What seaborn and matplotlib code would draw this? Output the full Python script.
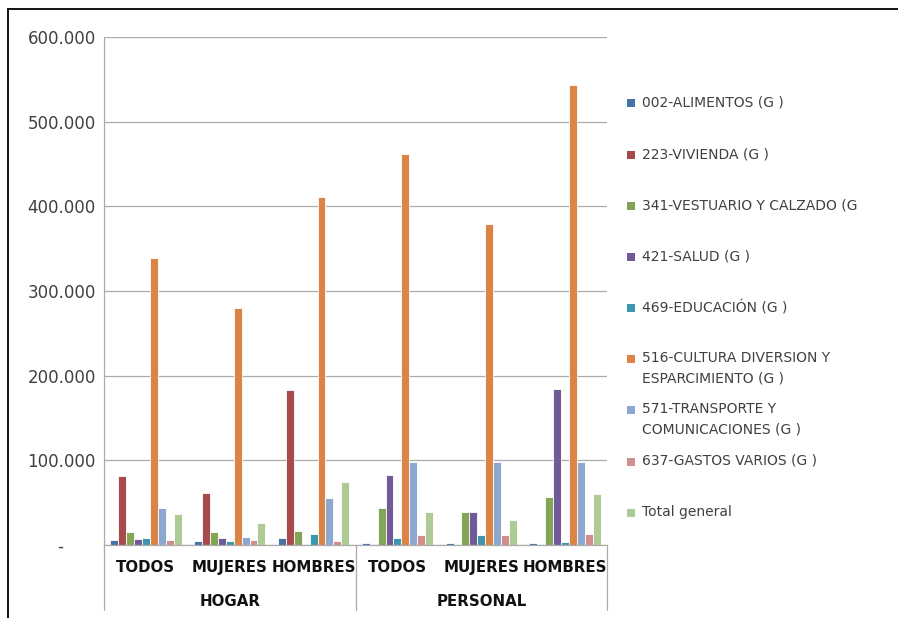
import matplotlib
matplotlib.use("Agg")
import matplotlib.pyplot as plt
from matplotlib.lines import Line2D
from matplotlib.patches import Rectangle
from matplotlib.ticker import FuncFormatter, MultipleLocator
import matplotlib.transforms as mtransforms
import seaborn as sns
import pandas as pd

# ---- data -------------------------------------------------------------
groups = ["HOGAR", "PERSONAL"]
subgroups = ["TODOS", "MUJERES", "HOMBRES"]

series = [
    "002-ALIMENTOS (G )",
    "223-VIVIENDA (G )",
    "341-VESTUARIO Y CALZADO (G",
    "421-SALUD (G )",
    "469-EDUCACIÓN (G )",
    "516-CULTURA DIVERSION Y\nESPARCIMIENTO (G )",
    "571-TRANSPORTE Y\nCOMUNICACIONES (G )",
    "637-GASTOS VARIOS (G )",
    "Total general",
]

# order: HOGAR TODOS / MUJERES / HOMBRES, PERSONAL TODOS / MUJERES / HOMBRES
alimentos = [6000, 5100, 8300, 2400, 2700, 2400]
vivienda = [82000, 61600, 182600, 0, 0, 0]
vestuario = [15500, 15400, 16600, 43500, 38700, 56900]
salud = [6700, 7900, 1200, 82600, 38700, 184000]
educacion = [8000, 4400, 13000, 8600, 11800, 3900]
cultura = [338800, 280000, 410700, 461600, 379500, 543800]
transporte = [44200, 9100, 56000, 98300, 98300, 97500]
gastos = [5600, 5900, 5000, 11800, 11500, 12700]
total_general = [36700, 26400, 74600, 39400, 29600, 60400]

values = [alimentos, vivienda, vestuario, salud, educacion,
          cultura, transporte, gastos, total_general]

colors = ["#4572A7", "#A84A4B", "#84A556", "#705A98", "#3E96AC",
          "#DB8446", "#8CA8D0", "#D28E8D", "#AFCB95"]

categories = [f"{g} {s}" for g in groups for s in subgroups]

rows = []
for name, vals in zip(series, values):
    for cat, v in zip(categories, vals):
        rows.append({"categoria": cat, "serie": name, "valor": v})
df = pd.DataFrame(rows)

# ---- figure -----------------------------------------------------------
sns.set_style("white")
plt.rcParams["font.family"] = ["DejaVu Sans"]

W, H = 898, 618
fig = plt.figure(figsize=(W / 100, H / 100), dpi=100)
ax_left, ax_right, ax_top, ax_bottom = 104, 607, 37, 545
ax = fig.add_axes([ax_left / W, 1 - ax_bottom / H,
                   (ax_right - ax_left) / W, (ax_bottom - ax_top) / H])

sns.barplot(data=df, x="categoria", y="valor", hue="serie",
            order=categories, hue_order=series, palette=colors,
            width=0.85, saturation=1, errorbar=None,
            edgecolor="white", linewidth=0.6, legend=False, ax=ax)

ax.set_xlim(-0.5, len(categories) - 0.5)
ax.set_ylim(0, 600000)
ax.yaxis.set_major_locator(MultipleLocator(100000))


def miles(v, _):
    if v == 0:
        return "-      "
    return f"{int(round(v)):,}".replace(",", ".")


ax.yaxis.set_major_formatter(FuncFormatter(miles))
ax.grid(axis="y", color="#ABABAB", linewidth=0.9)
ax.set_axisbelow(True)
ax.set_xlabel("")
ax.set_ylabel("")

for side in ["top", "right", "left"]:
    ax.spines[side].set_visible(False)
ax.spines["bottom"].set_color("#ABABAB")
ax.spines["bottom"].set_linewidth(0.9)

ax.tick_params(axis="y", length=0, pad=6, labelsize=12, labelcolor="#404040")
ax.set_xticks(range(len(categories)))
ax.set_xticklabels([])
ax.tick_params(axis="x", length=0)

# two-level category labels, placed on a common baseline
trans = mtransforms.blended_transform_factory(ax.transData, ax.transAxes)
span = ax_bottom - ax_top
sub_y = -(572 - ax_bottom) / span
grp_y = -(606 - ax_bottom) / span
for i, lab in enumerate(subgroups * len(groups)):
    ax.text(i, sub_y, lab, transform=trans, ha="center", va="baseline",
            fontsize=10.8, fontweight="bold", color="#111111")
for i, g in enumerate(groups):
    ax.text(i * 3 + 1, grp_y, g, transform=trans, ha="center", va="baseline",
            fontsize=10.8, fontweight="bold", color="#111111")

# vertical separators of the category axis
low = -(610 - ax_bottom) / span
ax.add_line(Line2D([-0.5, -0.5], [low, 1], transform=trans, color="#ABABAB",
                   linewidth=0.9, clip_on=False))
for xs in [2.5, 5.5]:
    ax.add_line(Line2D([xs, xs], [low, 0], transform=trans, color="#ABABAB",
                       linewidth=0.9, clip_on=False))

# ---- legend -----------------------------------------------------------
slot_y = [103, 155, 206, 257, 308, 359, 410, 462, 513]
for name, col, yy in zip(series, colors, slot_y):
    fig.add_artist(Rectangle((627 / W, 1 - (yy + 4) / H), 8 / W, 8 / H,
                             transform=fig.transFigure, facecolor=col,
                             edgecolor="none"))
    fig.text(642 / W, 1 - (yy - 8) / H, name, ha="left", va="top",
             fontsize=10, color="#404040", linespacing=1.55)

# ---- frame lines --------------------------------------------------------
fig.add_artist(Line2D([8 / W, 1], [1 - 9 / H, 1 - 9 / H],
                      transform=fig.transFigure, color="black", linewidth=1.3))
fig.add_artist(Line2D([8 / W, 8 / W], [0, 1 - 9 / H],
                      transform=fig.transFigure, color="black", linewidth=1.3))

fig.savefig("out.png", dpi=100, facecolor="white")
